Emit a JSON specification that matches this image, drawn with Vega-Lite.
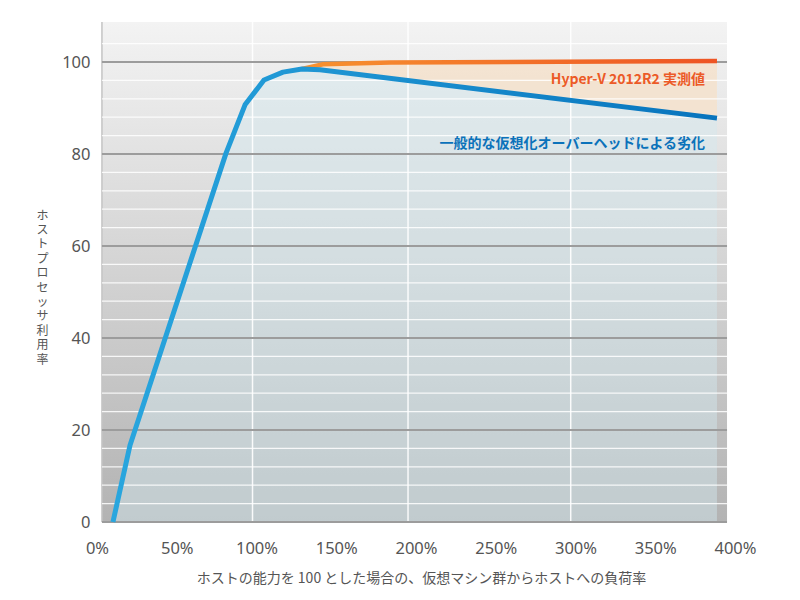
{
  "$schema": "https://vega.github.io/schema/vega-lite/v6.json",
  "width": 638,
  "height": 500,
  "autosize": {"type": "none"},
  "padding": {"left": 97, "top": 22, "right": 65, "bottom": 78},
  "background": "white",
  "config": {
    "view": {"stroke": null},
    "font": "Noto Sans CJK JP"
  },
  "datasets": {
    "blue": [
      {"load": 10.0, "util": 0},
      {"load": 20.7, "util": 16.7},
      {"load": 80.9, "util": 80.2},
      {"load": 92.8, "util": 90.7},
      {"load": 104.7, "util": 96.1},
      {"load": 116.6, "util": 97.8},
      {"load": 128.5, "util": 98.5},
      {"load": 139.8, "util": 98.3},
      {"load": 388.7, "util": 87.8}
    ],
    "orange": [
      {"load": 128.5, "util": 98.5},
      {"load": 141.7, "util": 99.5},
      {"load": 183.7, "util": 99.9},
      {"load": 388.7, "util": 100.2}
    ],
    "band": [
      {"load": 128.5, "lo": 98.5, "hi": 98.5},
      {"load": 139.8, "lo": 98.3, "hi": 99.45},
      {"load": 141.7, "lo": 98.2, "hi": 99.5},
      {"load": 183.7, "lo": 96.4, "hi": 99.9},
      {"load": 388.7, "lo": 87.8, "hi": 100.2}
    ],
    "ylines": [
      {"v": 0}, {"v": 4}, {"v": 8}, {"v": 12}, {"v": 16}, {"v": 20}, {"v": 24}, {"v": 28},
      {"v": 32}, {"v": 36}, {"v": 40}, {"v": 44}, {"v": 48}, {"v": 52}, {"v": 56}, {"v": 60},
      {"v": 64}, {"v": 68}, {"v": 72}, {"v": 76}, {"v": 80}, {"v": 84}, {"v": 88}, {"v": 92},
      {"v": 96}, {"v": 100}, {"v": 104}
    ],
    "vlines": [{"v": 97.5}, {"v": 195}, {"v": 297}],
    "labels": [
      {"load": 381.2, "util": 96.1, "label": "Hyper-V 2012R2 実測値", "series": "hyperv"},
      {"load": 381.2, "util": 82.2, "label": "一般的な仮想化オーバーヘッドによる劣化", "series": "generic"}
    ]
  },
  "layer": [
    {
      "data": {"values": [{}]},
      "mark": {
        "type": "rect",
        "fill": {
          "gradient": "linear", "x1": 0, "y1": 0, "x2": 0, "y2": 1,
          "stops": [{"offset": 0, "color": "#f3f3f3"}, {"offset": 1, "color": "#b3b3b3"}]
        }
      },
      "encoding": {
        "x": {
          "datum": 3.1, "type": "quantitative",
          "scale": {"domain": [0, 400], "nice": false, "zero": false},
          "axis": {
            "values": [0, 50, 100, 150, 200, 250, 300, 350, 400],
            "labelExpr": "datum.value + '%'",
            "labelFlush": false,
            "labelFont": "Noto Sans",
            "labelFontSize": 16.5,
            "labelColor": "#555555",
            "labelPadding": 18,
            "ticks": false,
            "domain": false,
            "grid": false,
            "title": "ホストの能力を 100 とした場合の、仮想マシン群からホストへの負荷率",
            "titleFont": "Noto Sans CJK JP",
            "titleFontSize": 14,
            "titleFontWeight": "normal",
            "titleColor": "#555555",
            "titleX": 324,
            "titleY": 56,
            "titleBaseline": "middle"
          }
        },
        "x2": {"datum": 395},
        "y": {
          "datum": 0, "type": "quantitative",
          "scale": {"domain": [0, 108.7], "nice": false, "zero": false},
          "axis": {
            "values": [0, 20, 40, 60, 80, 100],
            "labelFont": "Noto Sans",
            "labelFontSize": 16.5,
            "labelColor": "#555555",
            "labelPadding": 7,
            "ticks": false,
            "domain": false,
            "grid": false,
            "title": ["ホ", "ス", "ト", "プ", "ロ", "セ", "ッ", "サ", "利", "用", "率"],
            "titleFont": "Noto Sans CJK JP",
            "titleFontSize": 12,
            "titleFontWeight": "normal",
            "titleColor": "#555555",
            "titleAngle": 0,
            "titleAlign": "center",
            "titleBaseline": "middle",
            "titleLineHeight": 14.4,
            "titleX": -55,
            "titleY": 193
          }
        },
        "y2": {"datum": 108.7}
      }
    },
    {
      "data": {"values": [{}]},
      "mark": {"type": "rule", "stroke": "#c4c4c4", "strokeWidth": 1.5},
      "encoding": {
        "x": {"datum": 3.1, "type": "quantitative"},
        "y": {"datum": 0, "type": "quantitative"},
        "y2": {"datum": 108.7}
      }
    },
    {
      "data": {"name": "blue"},
      "mark": {"type": "area", "fill": "#d2e8f0", "opacity": 0.45},
      "encoding": {
        "x": {"field": "load", "type": "quantitative"},
        "y": {"field": "util", "type": "quantitative"}
      }
    },
    {
      "data": {"name": "band"},
      "mark": {"type": "area", "fill": "#f4e2cc", "opacity": 0.85},
      "encoding": {
        "x": {"field": "load", "type": "quantitative"},
        "y": {"field": "lo", "type": "quantitative"},
        "y2": {"field": "hi"}
      }
    },
    {
      "data": {"name": "vlines"},
      "mark": {"type": "rule", "stroke": "#ffffff", "strokeWidth": 1.5, "opacity": 0.9},
      "encoding": {
        "x": {"field": "v", "type": "quantitative"},
        "y": {"datum": 0, "type": "quantitative"},
        "y2": {"datum": 108.7}
      }
    },
    {
      "data": {"name": "ylines"},
      "transform": [{"filter": "datum.v % 20 != 0"}],
      "mark": {"type": "rule", "stroke": "#ffffff", "strokeWidth": 1.3, "opacity": 0.85},
      "encoding": {
        "y": {"field": "v", "type": "quantitative"},
        "x": {"datum": 3.1, "type": "quantitative"},
        "x2": {"datum": 395}
      }
    },
    {
      "data": {"name": "ylines"},
      "transform": [{"filter": "datum.v % 20 == 0"}],
      "mark": {"type": "rule", "stroke": "#9c9c9c", "strokeWidth": 2},
      "encoding": {
        "y": {"field": "v", "type": "quantitative"},
        "x": {"datum": 3.1, "type": "quantitative"},
        "x2": {"datum": 395}
      }
    },
    {
      "data": {"name": "orange"},
      "mark": {
        "type": "line",
        "strokeWidth": 4.5,
        "strokeCap": "butt",
        "stroke": {
          "gradient": "linear", "x1": 0, "y1": 0, "x2": 1, "y2": 0,
          "stops": [{"offset": 0, "color": "#f7922f"}, {"offset": 1, "color": "#ee5424"}]
        }
      },
      "encoding": {
        "x": {"field": "load", "type": "quantitative"},
        "y": {"field": "util", "type": "quantitative"}
      }
    },
    {
      "data": {"name": "blue"},
      "mark": {
        "type": "line",
        "strokeWidth": 5,
        "strokeCap": "butt",
        "strokeJoin": "round",
        "stroke": {
          "gradient": "linear", "x1": 0, "y1": 0, "x2": 1, "y2": 0,
          "stops": [{"offset": 0, "color": "#29a6de"}, {"offset": 1, "color": "#0874bd"}]
        }
      },
      "encoding": {
        "x": {"field": "load", "type": "quantitative"},
        "y": {"field": "util", "type": "quantitative"}
      }
    },
    {
      "data": {"name": "labels"},
      "mark": {"type": "text", "align": "right", "baseline": "middle", "fontSize": 14, "fontWeight": "bold", "font": "Noto Sans CJK JP"},
      "encoding": {
        "x": {"field": "load", "type": "quantitative"},
        "y": {"field": "util", "type": "quantitative"},
        "text": {"field": "label"},
        "color": {
          "field": "series", "type": "nominal",
          "scale": {"domain": ["hyperv", "generic"], "range": ["#ec5a27", "#0b72ba"]},
          "legend": null
        }
      }
    }
  ]
}
